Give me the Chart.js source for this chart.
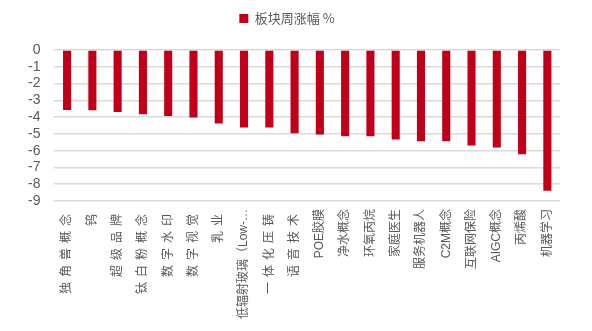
<!DOCTYPE html>
<html>
<head>
<meta charset="utf-8">
<script src="https://cdn.jsdelivr.net/npm/chart.js@4"></script>
<style>
    html, body { margin: 0; padding: 0; background: #fff; }
    #wrap { width: 592px; height: 331px; position: relative; }
</style>
</head>
<body>
<div id="wrap"><canvas id="weeklyChart"></canvas></div>
<script>
const categories = ['独角兽概念', '钨', '超级品牌', '钛白粉概念', '数字水印', '数字视觉', '乳业',
    '低辐射玻璃（Low-…', '一体化压铸', '语音技术', 'POE胶膜', '净水概念', '环氧丙烷', '家庭医生',
    '服务机器人', 'C2M概念', '互联网保险', 'AIGC概念', '丙烯酸', '机器学习'];
const weeklyChange = [-3.57, -3.59, -3.69, -3.83, -3.93, -4.03, -4.38, -4.62, -4.62, -4.96,
    -5.04, -5.14, -5.14, -5.34, -5.44, -5.44, -5.69, -5.81, -6.21, -8.39];
const yTicks = [0, -1, -2, -3, -4, -5, -6, -7, -8, -9];

// in the original some labels are set with looser character spacing
const looseLabels = [0, 1, 2, 3, 4, 5, 6, 8, 9];

class SpacedCategoryScale extends Chart.CategoryScale {
    drawLabels(chartArea) {
        const helpers = Chart.helpers;
        if (!helpers || !helpers.renderText) {
            super.drawLabels(chartArea);
            return;
        }
        const ctx = this.ctx;
        const items = this.getLabelItems(chartArea);
        items.forEach((item, i) => {
            ctx.save();
            ctx.letterSpacing = looseLabels.includes(i) ? '5px' : '0px';
            helpers.renderText(ctx, item.label, 0, item.textOffset, item.font, item.options);
            ctx.restore();
        });
    }
}
SpacedCategoryScale.id = 'spacedCategory';
SpacedCategoryScale.defaults = Chart.CategoryScale.defaults;
Chart.register(SpacedCategoryScale);

// a little more room under the legend
const legendGap = {
    id: 'legendGap',
    beforeInit(chart) {
        const origFit = chart.legend.fit;
        chart.legend.fit = function() {
            origFit.bind(chart.legend)();
            this.height += 15;
        };
    }
};

document.addEventListener('DOMContentLoaded', () => {
    const ctx = document.getElementById('weeklyChart');
    new Chart(ctx.getContext('2d'), {
        type: 'bar',
        data: {
            labels: categories,
            datasets: [{
                label: '板块周涨幅 %',
                data: weeklyChange,
                backgroundColor: '#C00018',
                borderWidth: 0,
                barPercentage: 0.32,
                categoryPercentage: 1
            }]
        },
        plugins: [legendGap],
        options: {
            responsive: true,
            maintainAspectRatio: false,
            animation: false,
            layout: { padding: { top: 0, right: 32, left: 14, bottom: 4 } },
            plugins: {
                legend: {
                    position: 'top',
                    labels: {
                        boxWidth: 9,
                        boxHeight: 9,
                        color: '#595959',
                        font: { family: "'Noto Sans CJK SC', sans-serif", size: 13 },
                        padding: 12
                    }
                },
                tooltip: { enabled: false }
            },
            scales: {
                x: {
                    type: 'spacedCategory',
                    grid: { display: false, drawTicks: false },
                    border: { display: false },
                    ticks: {
                        autoSkip: false,
                        minRotation: 90,
                        maxRotation: 90,
                        padding: 8,
                        color: '#595959',
                        font: { family: "'Liberation Sans', 'Noto Sans CJK SC', sans-serif", size: 12 }
                    }
                },
                y: {
                    min: yTicks[yTicks.length - 1],
                    max: yTicks[0],
                    afterBuildTicks: axis => {
                        axis.ticks = yTicks.map(v => ({ value: v }));
                    },
                    grid: { color: '#d9d9d9', lineWidth: 1.5, drawTicks: false },
                    border: { display: false },
                    ticks: {
                        autoSkip: false,
                        padding: 14,
                        color: '#595959',
                        font: { family: "'Liberation Sans', Arial, sans-serif", size: 14 }
                    }
                }
            }
        }
    });
});
</script>
</body>
</html>
